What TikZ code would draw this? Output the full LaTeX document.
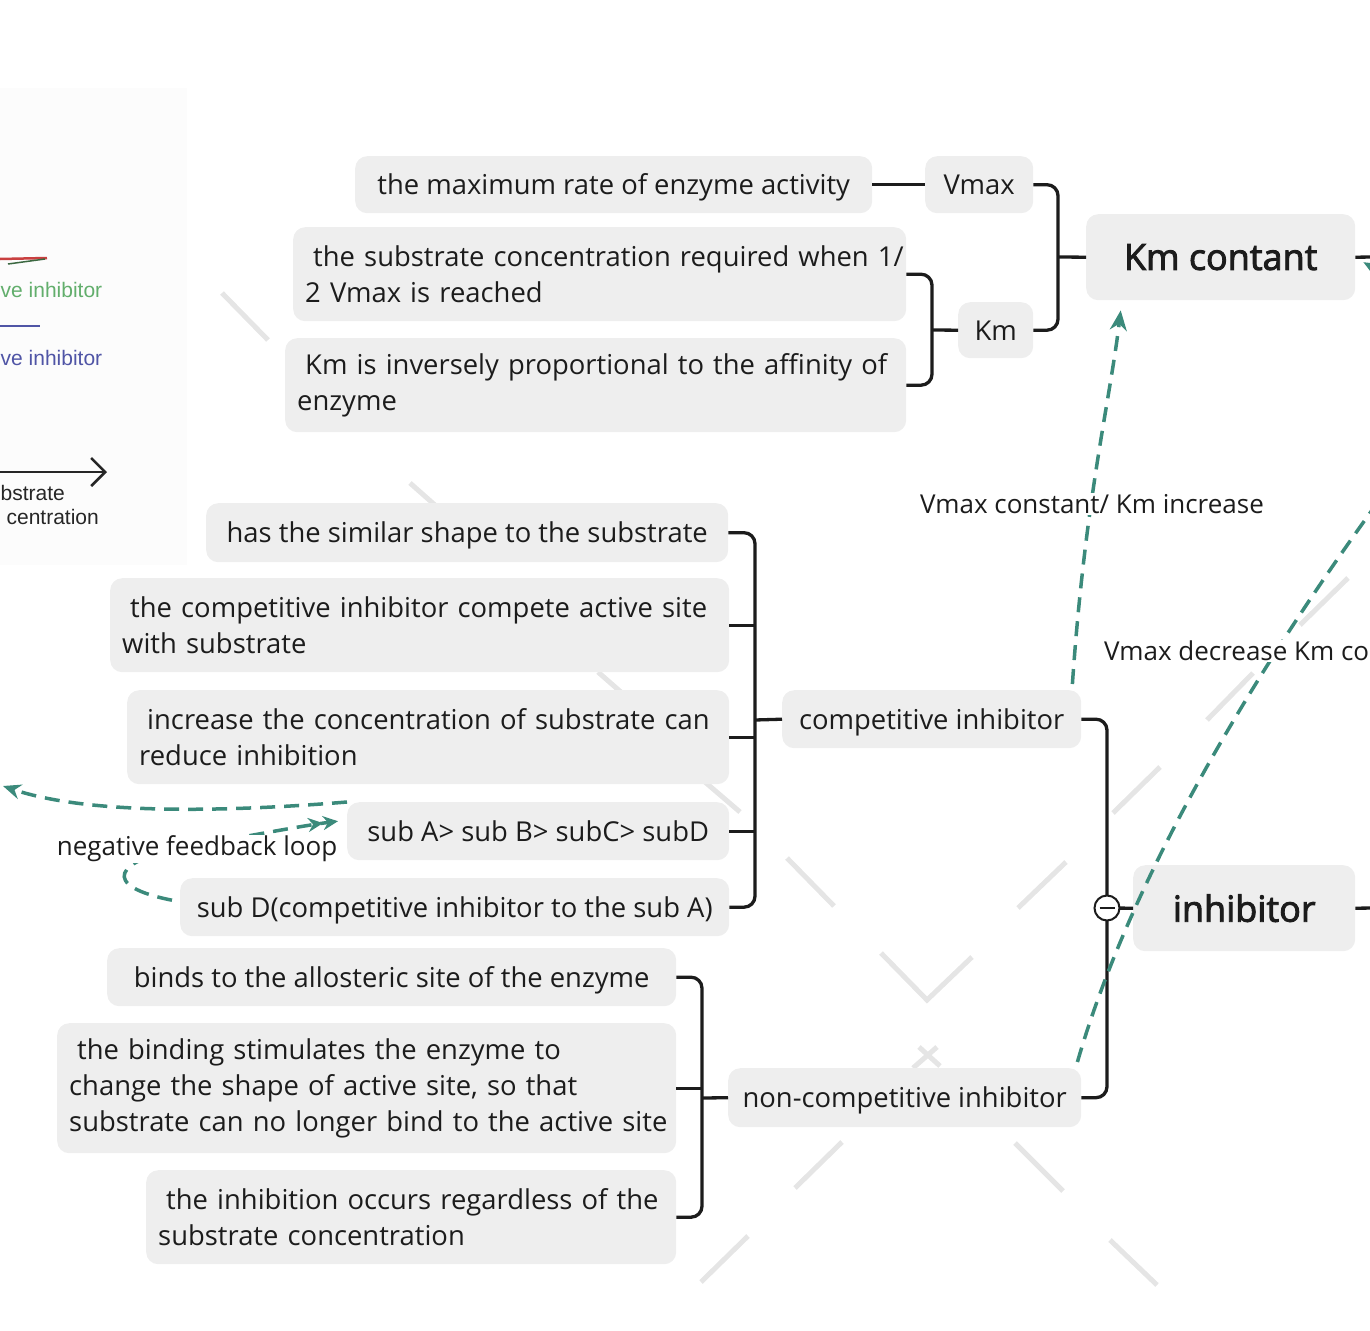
\documentclass[tikz,border=0pt]{standalone}
\usepackage{fontspec}
\setmainfont{Open Sans}
\newfontfamily\headfont{Open Sans}[FakeBold=2.5]
\newfontfamily\legfont{Liberation Sans}
\usetikzlibrary{arrows.meta}
\definecolor{boxgray}{HTML}{EEEEEE}
\definecolor{tealc}{HTML}{3B8A7B}
\definecolor{wmgray}{HTML}{E5E5E5}
\definecolor{ink}{HTML}{1C1C1C}
\definecolor{leggreen}{HTML}{62AE6C}
\definecolor{legblue}{HTML}{5055A6}
\definecolor{legred}{HTML}{C94040}
\newcommand\tline[1]{\mbox{#1}}
\newcommand\ind{\hspace*{8pt}}
\begin{document}
\begin{tikzpicture}[x=1pt,y=-1pt,
  boxbase/.style={fill=boxgray, rounded corners=12pt, inner xsep=12pt, inner ysep=0pt, text=ink, anchor=north west},
  sbox/.style={boxbase, align=center, font=\fontsize{27.4}{36}\selectfont, text height=20.5pt, text depth=0pt},
  mbox/.style={boxbase, align=left, font=\fontsize{27.4}{36}\selectfont},
  hbox/.style={boxbase, align=center, font=\headfont\fontsize{36}{42}\selectfont},
  conn/.style={draw=ink, line width=3.3pt, rounded corners=11pt},
  tdash/.style={draw=tealc, line width=3.5pt, dash pattern=on 15pt off 9pt},
  wmline/.style={draw=wmgray, line width=5pt},
  lab/.style={fill=white, inner xsep=3pt, inner ysep=1pt, text=ink, font=\fontsize{26}{30}\selectfont},
  legtext/.style={font=\legfont\fontsize{21}{24}\selectfont, inner sep=0pt}
]
\useasboundingbox (0,0) rectangle (1370,1330);
\clip (0,0) rectangle (1370,1330);

% legend image fragment
\fill[fill=black!1] (0,88) rectangle (187,565);
\draw[legred, line width=2.5pt] (0,259) -- (47,258);
\draw[leggreen!60!black, line width=1.5pt] (8,264) -- (45,259);
\node[legtext, text=leggreen, anchor=west] (lg1) at (0.5,290) {ve inhibitor};
\draw[legblue, line width=2.5pt] (0,326) -- (40,326);
\node[legtext, text=legblue, anchor=west] (lg2) at (0.5,358) {ve inhibitor};
\coordinate (ax0) at (0,472);
\coordinate (ax1) at (107,472);
\draw[black!85, line width=2.5pt, -{Straight Barb[length=14pt,width=28pt,line width=2.5pt]}] (ax0) -- (ax1);
\node[legtext, text=black!85, anchor=west] (lg3) at (0.5,493) {bstrate};
\node[legtext, text=black!85, anchor=east] (lg4) at (99,517) {centration};

% watermark strokes
\draw[wmline] (222,293) -- (268,340);
\draw[wmline] (410,483) -- (436,506);
\draw[wmline] (598,672) -- (622,693);
\draw[wmline] (705,782) -- (740,812);
\draw[wmline] (787,858) -- (834,906);
\draw[wmline] (1018,908) -- (1066,862);
\draw[wmline] (881,953) -- (927,1000) -- (972,957);
\draw[wmline] (919,1047) -- (940,1066);
\draw[wmline] (937,1047) -- (913,1068);
\draw[wmline] (795,1188) -- (842,1142);
\draw[wmline] (1015,1143) -- (1063,1191);
\draw[wmline] (701,1282) -- (748,1236);
\draw[wmline] (1110,1240) -- (1157,1285);
\draw[wmline] (1113,813) -- (1160,767);
\draw[wmline] (1207,720) -- (1253,673);
\draw[wmline] (1300,625) -- (1348,578);

% boxes
\node[sbox, minimum width=517pt, minimum height=57pt] (b1) at (355,156) {the maximum rate of enzyme activity};
\node[sbox, minimum width=108pt, minimum height=57pt] (vmax) at (925,156) {Vmax};
\node[mbox, text width=589pt, minimum height=94pt] (b3) at (293,227) {\tline{\ind the substrate concentration required when 1/}\\\tline{2 Vmax is reached}};
\node[mbox, text width=597pt, minimum height=94pt] (b4) at (285,338) {\tline{\ind Km is inversely proportional to the affinity of}\\\tline{enzyme}};
\node[sbox, minimum width=75pt, minimum height=56pt] (km) at (958,302) {Km};
\node[hbox, minimum width=269pt, minimum height=86pt] (kmc) at (1086,214) {Km contant};
\node[sbox, minimum width=522pt, minimum height=59pt] (c1) at (206,503) {has the similar shape to the substrate};
\node[mbox, text width=595pt, minimum height=94pt] (c2) at (110,578) {\tline{\ind the competitive inhibitor compete active site}\\\tline{with substrate}};
\node[mbox, text width=578pt, minimum height=94pt] (c3) at (127,690) {\tline{\ind increase the concentration of substrate can}\\\tline{reduce inhibition}};
\node[sbox, minimum width=382pt, minimum height=58pt] (c4) at (347,802) {sub A> sub B> subC> subD};
\node[sbox, minimum width=549pt, minimum height=58pt] (c5) at (180,878) {sub D(competitive inhibitor to the sub A)};
\node[sbox, minimum width=299pt, minimum height=58pt] (comp) at (782,690) {competitive inhibitor};
\node[hbox, minimum width=222pt, minimum height=86pt] (inh) at (1133,865) {inhibitor};
\node[sbox, minimum width=569pt, minimum height=58pt] (n1) at (107,948) {binds to the allosteric site of the enzyme};
\node[mbox, text width=595pt, minimum height=130pt] (n2) at (57,1023) {\tline{\ind the binding stimulates the enzyme to}\\\tline{change the shape of active site, so that}\\\tline{substrate can no longer bind to the active site}};
\node[mbox, text width=506pt, minimum height=94pt] (n3) at (146,1170) {\tline{\ind the inhibition occurs regardless of the}\\\tline{substrate concentration}};
\node[sbox, minimum width=353pt, minimum height=59pt] (ncomp) at (728,1068) {non-competitive inhibitor};

% junctions
\coordinate (jvk) at (1058,257);
\coordinate (jkm) at (932,330);
\coordinate (jc) at (755,720);
\coordinate (jn) at (702,1098);
\coordinate (ji) at (1107,908);
\coordinate (ekmc) at (1375,257);
\coordinate (einh) at (1375,908);

% black connectors
\draw[conn] (b1.east) -- (vmax.west);
\draw[conn] (vmax.east) -| (jvk) |- (km.east);
\draw[conn] (jvk) -- (kmc.west);
\draw[conn] (b3.east) -| (jkm) |- (b4.east);
\draw[conn] (jkm) -- (km.west);
\draw[conn] (c1.east) -| (jc) |- (c5.east);
\draw[conn] (c2.east) -- (c2.east -| jc);
\draw[conn] (c3.east) -- (c3.east -| jc);
\draw[conn] (c4.east) -- (c4.east -| jc);
\draw[conn] (jc) -- (comp.west);
\draw[conn] (n1.east) -| (jn) |- (n3.east);
\draw[conn] (n2.east) -- (n2.east -| jn);
\draw[conn] (jn) -- (ncomp.west);
\draw[conn] (comp.east) -| (ji) |- (ncomp.east);
\draw[conn] (ji) -- (inh.west);
\draw[conn] (kmc.east) -- (ekmc);
\draw[conn] (inh.east) -- (einh);
\node[circle, draw=ink, fill=white, line width=2pt, minimum size=25pt, inner sep=0pt] (minus) at (ji) {};
\draw[ink, line width=2pt] ([xshift=-7.5pt]minus.center) -- ([xshift=7.5pt]minus.center);

% teal dashed relations
\draw[tdash, -{Stealth[length=20pt,width=17pt]}] ([xshift=-9pt,yshift=6pt]comp.north east)
  .. controls (1085,500) and (1110,400) .. ([xshift=-100pt,yshift=-10pt]kmc.south);
\draw[tdash, -{Stealth[length=20pt,width=17pt]}] ([xshift=-4pt,yshift=6pt]ncomp.north east)
  .. controls (1130,880) and (1250,680) .. (1370,513)
  .. controls (1430,430) and (1430,300) .. ([xshift=8pt,yshift=-5pt]kmc.east);
\draw[tdash, -{Stealth[length=18pt,width=15pt]}] (c4.north west)
  .. controls (200,814) and (80,812) .. (3,786);
\draw[tdash, -{Stealth[length=15pt,width=14pt]Stealth[length=15pt,width=14pt]}] ([xshift=-8pt,yshift=7pt]c5.west)
  .. controls (100,886) and (112,860) .. (190,846)
  .. controls (250,836) and (300,826) .. ([xshift=-9pt,yshift=10pt]c4.west);

% labels
\node[lab] (l1) at (1092,504) {Vmax constant/ Km increase};
\node[lab, anchor=west, inner xsep=1pt] (l2) at (1103,651) {Vmax decrease Km co};
\node[lab] (l3) at (197,849) {negative feedback loop};
\end{tikzpicture}
\end{document}
